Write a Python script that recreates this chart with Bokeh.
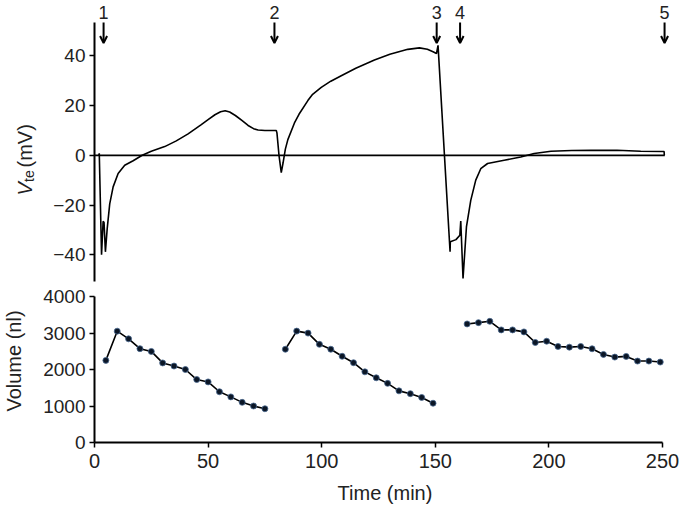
import math
from bokeh.plotting import figure
from bokeh.layouts import column, row
from bokeh.models import (Arrow, OpenHead, Range1d, FixedTicker, ColumnDataSource)
from bokeh.core.properties import value
from bokeh.embed import file_html
from bokeh.resources import INLINE

# ---------------- data ----------------
# transepithelial voltage trace (min, mV)
trace_time = [1.9, 2.1, 3.1, 3.8, 4.2, 4.8, 5.6, 6.7, 8.2, 10.4, 13.3, 17.0, 21.0,
              25.0, 30.9, 36.0, 41.2, 47.0, 50.0, 53.0, 55.5, 57.5, 59.5, 62.0,
              65.0, 67.6, 70.0, 72.0, 75.0, 80.0, 80.3, 81.2, 82.2, 83.0, 84.0,
              85.1, 88.0, 90.0, 93.9, 96.0, 99.8, 104.0, 108.6, 115.0, 123.2,
              130.0, 137.9, 143.0, 146.5, 149.0, 150.5, 151.2, 156.5, 156.6,
              159.1, 160.8, 161.2, 162.2, 163.7, 165.6, 167.8, 170.0, 173.0,
              180.3, 187.6, 193.5, 200.9, 210.0, 218.5, 230.0, 240.4, 250.7, 250.8]
trace_vte = [0.0, 0.8, -40.0, -26.5, -27.0, -38.8, -29.4, -19.5, -12.7, -7.3, -4.0, -2.2, 0.0,
             1.6, 3.5, 5.8, 8.6, 12.3, 14.3, 16.3, 17.5, 17.9, 17.4, 16.0,
             13.9, 12.0, 10.7, 10.2, 10.0, 10.0, 9.0, 0.0, -7.0, -3.0, 2.5,
             6.3, 13.0, 16.5, 22.0, 24.5, 27.3, 29.8, 32.0, 35.0, 38.3,
             40.6, 42.6, 43.2, 42.6, 41.6, 40.9, 44.2, -38.8, -34.8,
             -33.9, -32.1, -26.4, -49.5, -28.8, -18.1, -10.0, -5.4, -3.3,
             -2.0, -0.7, 0.7, 1.6, 1.9, 2.0, 2.0, 1.6, 1.5, 0.0]
baseline_time = [0.0, 251.0]
baseline_vte = [0.0, 0.0]

event_times = [4.0, 79.2, 150.6, 160.9, 250.9]
event_labels = ["1", "2", "3", "4", "5"]

# cell volume (min, nl)
vol_time_1 = [5, 10, 15, 20, 25, 30, 35, 40, 45, 50, 55, 60, 65, 70, 75]
vol_1 = [2250, 3050, 2840, 2570, 2495, 2180, 2095, 2000, 1725, 1660, 1390, 1250, 1100, 1000, 925]
vol_time_2 = [84, 89, 94, 99, 104, 109, 114, 119, 124, 129, 134, 139, 144, 149]
vol_2 = [2555, 3052, 2997, 2690, 2555, 2363, 2186, 1936, 1773, 1620, 1415, 1338, 1234, 1076]
vol_time_3 = [164, 169, 174, 179, 184, 189, 194, 199, 204, 209, 214, 219, 224, 229,
              234, 239, 244, 249]
vol_3 = [3248, 3284, 3320, 3085, 3085, 3030, 2740, 2775, 2631, 2612, 2631, 2568,
         2413, 2340, 2359, 2231, 2231, 2204]

v_ticks = [-40, -20, 0, 20, 40]
vol_ticks = [0, 1000, 2000, 3000, 4000]
time_ticks = [0, 50, 100, 150, 200, 250]

# ---------------- style / layout ----------------
FONT = "Liberation Sans"
TXT = "#222222"
LAB_W = 40                # width of the strip holding the rotated y titles
MAIN_W = 683 - LAB_W
LEFT, RIGHT = 53, 8
PX_PER_MIN = 2.276
X_END = (MAIN_W - LEFT - RIGHT) / PX_PER_MIN
xr = Range1d(0, X_END)

H1 = 282                  # top panel height
H2 = 506 - H1             # bottom panel height
V_PX = 2.4875             # px per mV
V_ZERO = 154.8            # page y of 0 mV
V_TOP = V_ZERO / V_PX
V_BOT = -(H1 - V_ZERO) / V_PX


def mv_at(py):
    return (V_ZERO - py) / V_PX


def style_axis(ax, size="19px"):
    ax.axis_line_width = 2
    ax.axis_line_color = "black"
    ax.major_tick_line_width = 1.5
    ax.major_tick_line_color = "black"
    ax.major_tick_out = 5
    ax.major_tick_in = 0
    ax.minor_tick_line_color = None
    ax.major_label_text_font = FONT
    ax.major_label_text_font_size = size
    ax.major_label_text_color = TXT
    ax.major_label_standoff = 4


def bare(fig):
    fig.outline_line_color = None
    fig.grid.visible = False
    fig.axis.visible = False


# ---------------- top panel: Vte ----------------
p1 = figure(width=MAIN_W, height=H1, x_range=xr, y_range=Range1d(V_BOT, V_TOP),
            output_backend="svg", toolbar_location=None, x_axis_location=None,
            min_border_left=LEFT, min_border_right=RIGHT,
            min_border_top=0, min_border_bottom=0)
p1.outline_line_color = None
p1.grid.visible = False
p1.yaxis.ticker = FixedTicker(ticks=v_ticks)
p1.yaxis.bounds = (mv_at(280.5), mv_at(21.7))
p1.yaxis.major_label_overrides = {t: (str(t).replace("-", "\u2212")) for t in v_ticks}
style_axis(p1.yaxis[0])

p1.line(baseline_time, baseline_vte, line_color="black", line_width=1.8)
p1.line(trace_time, trace_vte, line_color="black", line_width=1.6)

n_ev = len(event_times)
ev = ColumnDataSource(dict(x=event_times, t=event_labels,
                           ys=[mv_at(22.0)] * n_ev,
                           ye=[mv_at(42.5)] * n_ev,
                           yl=[mv_at(12.0)] * n_ev))
p1.add_layout(Arrow(source=ev, x_start="x", y_start="ys", x_end="x", y_end="ye",
                    line_width=2, line_color="black",
                    end=OpenHead(size=7, line_width=2, line_color="black")))
p1.text(x="x", y="yl", text="t", source=ev, text_font=value(FONT),
        text_font_size="18px", text_color=TXT, text_align="center",
        text_baseline="middle")

# strip with the rotated y title  "V_te (mV)"  (y = minus page pixel)
l1 = figure(width=LAB_W, height=H1, x_range=Range1d(0, LAB_W),
            y_range=Range1d(-H1, 0), output_backend="svg", toolbar_location=None,
            min_border_left=0, min_border_right=0, min_border_top=0,
            min_border_bottom=0)
bare(l1)
l1.text(x=[24], y=[-195], text=["V"], angle=math.pi / 2, text_font=value(FONT),
        text_font_size="20px", text_font_style="italic", text_color=TXT,
        text_align="left", text_baseline="middle")
l1.text(x=[28], y=[-181.5], text=["te"], angle=math.pi / 2, text_font=value(FONT),
        text_font_size="14px", text_color=TXT,
        text_align="left", text_baseline="middle")
l1.text(x=[24], y=[-167], text=["(mV)"], angle=math.pi / 2, text_font=value(FONT),
        text_font_size="20px", text_color=TXT,
        text_align="left", text_baseline="middle")

# ---------------- bottom panel: volume ----------------
p2 = figure(width=MAIN_W, height=H2, x_range=xr, y_range=Range1d(0, 4000),
            output_backend="svg", toolbar_location=None,
            min_border_left=LEFT, min_border_right=RIGHT,
            min_border_top=296 - H1, min_border_bottom=H2 - (296 - H1) - 147)
p2.outline_line_color = None
p2.grid.visible = False
p2.yaxis.ticker = FixedTicker(ticks=vol_ticks)
p2.xaxis.ticker = FixedTicker(ticks=time_ticks)
p2.xaxis.bounds = (0, 250)
style_axis(p2.yaxis[0])
style_axis(p2.xaxis[0], "20px")
p2.xaxis.major_label_standoff = 6
p2.xaxis.axis_label = "Time (min)"
p2.xaxis.axis_label_text_font = FONT
p2.xaxis.axis_label_text_font_size = "20px"
p2.xaxis.axis_label_text_font_style = "normal"
p2.xaxis.axis_label_text_color = TXT
p2.xaxis.axis_label_standoff = 11

for tx, vy in [(vol_time_1, vol_1), (vol_time_2, vol_2), (vol_time_3, vol_3)]:
    p2.line(tx, vy, line_color="black", line_width=1.6)
    p2.scatter(tx, vy, size=6, fill_color="#0b1626", line_color="#4a6a90",
               line_width=0.8)

l2 = figure(width=LAB_W, height=H2, x_range=Range1d(0, LAB_W),
            y_range=Range1d(-506, -H1), output_backend="svg", toolbar_location=None,
            min_border_left=0, min_border_right=0, min_border_top=0,
            min_border_bottom=0)
bare(l2)
l2.text(x=[13], y=[-360.5], text=["Volume (nl)"], angle=math.pi / 2,
        text_font=value(FONT), text_font_size="20px", text_color=TXT,
        text_align="center", text_baseline="middle")

layout = row(column(l1, l2, spacing=0), column(p1, p2, spacing=0), spacing=0)
open("out.html", "w").write(file_html(layout, INLINE))
